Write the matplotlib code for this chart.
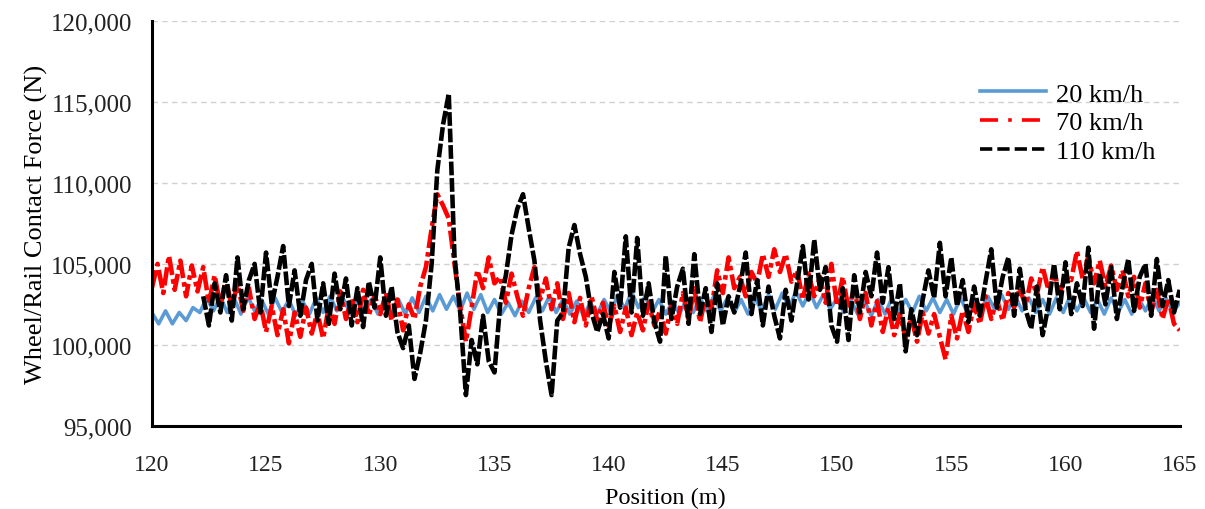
import numpy as np
import matplotlib
matplotlib.use('Agg')
import matplotlib.pyplot as plt
from matplotlib.ticker import StrMethodFormatter
from matplotlib.lines import Line2D

plt.rcParams['font.family'] = ['Liberation Serif', 'DejaVu Serif']

# wheel/rail contact force, in kN (converted to N below)
# 20 km/h, one value every 0.3 m from 120 m
force_20 = [
    102.0, 101.3, 102.1, 101.3, 102.0, 101.5, 102.3, 102.0, 102.9, 102.1,
    103.0, 102.0, 102.9, 101.9, 103.0, 102.1, 102.8, 101.9, 102.9, 102.0,
    102.8, 101.8, 102.7, 101.9, 102.9, 102.0, 103.0, 102.1, 102.8, 101.9,
    102.9, 102.0, 102.8, 101.9, 102.7, 101.8, 102.8, 101.9, 102.9, 102.0,
    103.0, 102.1, 103.1, 102.2, 103.0, 102.1, 103.2, 102.2, 103.1, 102.0,
    102.8, 101.9, 102.6, 101.8, 102.7, 102.0, 102.9, 102.1, 103.0, 102.0,
    102.8, 101.9, 102.7, 101.8, 102.6, 101.9, 102.8, 102.0, 103.1, 102.2,
    103.3, 102.3, 103.0, 102.0, 102.8, 101.9, 102.7, 101.9, 102.8, 102.0,
    102.9, 102.1, 103.0, 102.1, 102.9, 102.0, 102.8, 101.9, 102.9, 102.1,
    103.1, 102.2, 103.2, 102.3, 103.3, 102.4, 103.3, 102.3, 103.1, 102.2,
    102.9, 102.0, 102.8, 101.9, 102.7, 101.8, 102.8, 101.9, 102.9, 102.0,
    102.8, 102.0, 103.0, 102.1, 102.9, 102.0, 102.8, 101.9, 102.9, 102.0,
    102.9, 102.1, 103.0, 102.2, 103.1, 102.2, 103.0, 102.1, 102.9, 102.0,
    102.8, 101.9, 102.9, 102.0, 103.0, 102.1, 102.9, 102.0, 102.8, 101.9,
    102.9, 102.0, 102.8, 101.9, 102.9, 102.1, 103.0, 102.1, 102.9, 102.0,
    102.6,
]

# 70 km/h, one value every 0.25 m from 120 m
force_70 = [
    103.5, 105.0, 103.2, 105.5, 103.4, 105.2, 103.0, 104.9,
    103.3, 104.8, 102.6, 104.3, 102.4, 104.1, 102.3, 103.8,
    102.1, 103.5, 101.6, 102.6, 100.8, 102.4, 100.6, 102.2,
    100.1, 102.0, 100.5, 102.3, 100.7, 102.0, 100.4, 102.4,
    101.3, 103.3, 101.6, 102.9, 101.4, 103.4, 101.8, 103.1,
    101.9, 103.2, 101.5, 102.8, 100.9, 102.5, 101.6, 103.6,
    104.8, 107.2, 109.3, 108.6, 107.8, 105.0, 102.4, 100.2,
    102.3, 104.6, 103.5, 105.4, 103.8, 104.2, 102.6, 104.4,
    103.0, 101.8, 103.5, 104.8, 102.8, 104.1, 102.2, 103.8,
    101.6, 103.2, 101.4, 102.9, 101.2, 103.0, 101.5, 102.6,
    101.1, 102.4, 100.8, 102.3, 100.6, 102.0, 100.9, 102.6,
    101.2, 102.1, 100.7, 102.5, 101.3, 103.2, 101.6, 103.5,
    101.4, 103.0, 102.2, 104.6, 103.2, 105.4, 103.5, 104.2,
    103.0, 104.5, 103.8, 105.6, 104.2, 105.9, 104.5, 105.6,
    103.9, 104.6, 102.8, 104.4, 103.0, 104.2, 102.6, 105.0,
    102.4, 104.2, 102.2, 103.5, 101.6, 103.2, 101.2, 102.7,
    100.8, 102.3, 100.6, 101.9, 100.4, 101.7, 100.2, 102.0,
    100.7, 101.9, 100.5, 99.1, 101.8, 100.4, 102.1, 100.8,
    102.5, 101.3, 103.0, 101.6, 102.8, 101.5, 103.2, 102.3,
    103.5, 102.4, 104.1, 103.1, 104.8, 103.4, 104.5, 103.2,
    104.2, 104.0, 105.8, 104.1, 105.5, 103.8, 105.2, 103.6,
    104.9, 103.4, 104.6, 103.0, 104.2, 102.3, 103.8, 102.0,
    103.4, 101.6, 102.9, 101.3, 100.9,
]

# 110 km/h, one value every 0.25 m from 122.25 m
force_110 = [
    103.0, 101.2, 103.8, 102.0, 104.3, 101.5, 105.4,
    102.2, 104.0, 105.0, 102.0, 105.7, 102.5, 104.2, 106.1,
    102.4, 104.6, 101.8, 104.0, 105.0, 101.5, 103.8, 101.3,
    104.4, 102.2, 104.1, 101.2, 103.5, 101.1, 103.9, 102.3,
    105.4, 101.8, 103.6, 100.8, 99.8, 101.2, 97.9, 99.5,
    101.5, 105.0, 110.8, 113.6, 115.5, 105.5, 102.0, 96.9,
    100.3, 98.8, 101.8, 99.0, 98.3, 102.5, 104.3, 106.8,
    108.4, 109.3, 107.2, 105.2, 101.5, 99.0, 96.9, 101.5,
    102.0, 106.0, 107.4, 105.6, 104.2, 102.0, 100.8, 101.9,
    100.4, 104.5, 102.3, 106.7, 102.0, 106.6, 101.8, 103.8,
    101.4, 100.2, 105.5, 101.6, 103.6, 104.7, 101.3, 105.6,
    101.9, 103.5, 100.8, 103.8, 101.2, 103.0, 102.0, 103.6,
    105.7, 101.9, 104.0, 101.2, 103.6, 101.8, 100.4, 103.4,
    101.5, 103.8, 106.1, 102.8, 106.5, 103.4, 104.8, 101.2,
    100.2, 103.5, 100.3, 104.3, 102.0, 104.5, 103.0, 105.7,
    102.6, 104.8, 101.6, 103.8, 99.6, 102.2, 100.6, 102.8,
    104.6, 102.9, 106.3, 103.0, 105.4, 102.4, 104.0, 101.4,
    103.6, 101.8, 103.9, 105.9, 102.3, 104.2, 105.4, 101.8,
    104.7, 102.2, 101.0, 103.6, 100.6, 102.4, 105.0, 102.2,
    105.1, 101.9, 103.8, 102.4, 106.0, 101.0, 104.4, 102.5,
    104.8, 101.6, 103.6, 105.3, 102.1, 104.2, 105.0, 101.8,
    105.3, 102.4, 104.0, 102.0, 103.4,
]

labels = ['20 km/h', '70 km/h', '110 km/h']

# sample positions (m)
pos_20 = 120 + 0.3 * np.arange(len(force_20))
pos_70 = 120 + 0.25 * np.arange(len(force_70))
pos_110 = 122.25 + 0.25 * np.arange(len(force_110))

fig = plt.figure(figsize=(12.05, 5.10), dpi=100)
ax = fig.add_axes([0.126, 0.163, 0.853, 0.794])

# dense signals -> short gaps so the lines look nearly solid like the original
ax.plot(pos_20, np.array(force_20) * 1000, color='#5B9BD5', lw=2.6)
ax.plot(pos_70, np.array(force_70) * 1000, color='#FF0000', lw=3.3,
        dashes=(4, 0.9, 1, 0.9))
ax.plot(pos_110, np.array(force_110) * 1000, color='black', lw=3.3,
        dashes=(3, 0.6))

ax.set_xlim(120, 165)
ax.set_ylim(95000, 120000)
ax.set_xticks(np.arange(120, 166, 5))
ax.set_yticks(np.arange(95000, 120001, 5000))
ax.yaxis.set_major_formatter(StrMethodFormatter('{x:,.0f}'))

# dashed light grey grid, only horizontal
ax.grid(axis='y', color='#d0d0d0', linestyle=(0, (4, 3)), lw=1.0)
ax.set_axisbelow(True)

for s in ['top', 'right']:
    ax.spines[s].set_visible(False)
for s in ['left', 'bottom']:
    ax.spines[s].set_linewidth(2.2)
    ax.spines[s].set_color('black')

ax.tick_params(length=0, colors='#222222')
ax.tick_params(axis='x', pad=20, labelsize=17)
ax.tick_params(axis='y', pad=14, labelsize=18)

ax.set_xlabel('Position (m)', fontsize=17.5, labelpad=9)
ax.set_ylabel('Wheel/Rail Contact Force (N)', fontsize=19, labelpad=2)

# legend keys drawn with the open dash patterns of the original legend
handles = [
    Line2D([], [], color='#5B9BD5', lw=2.6),
    Line2D([], [], color='#FF0000', lw=2.6, dashes=(5, 2.8, 1, 2.8)),
    Line2D([], [], color='black', lw=2.6, dashes=(3.4, 1.4)),
]
ax.legend(handles, labels, loc='upper left', bbox_to_anchor=(0.795, 0.875),
          frameon=False, fontsize=19, handlelength=2.5, handletextpad=0.4,
          labelspacing=0.2, borderaxespad=0)

fig.savefig('out.png', dpi=100)
